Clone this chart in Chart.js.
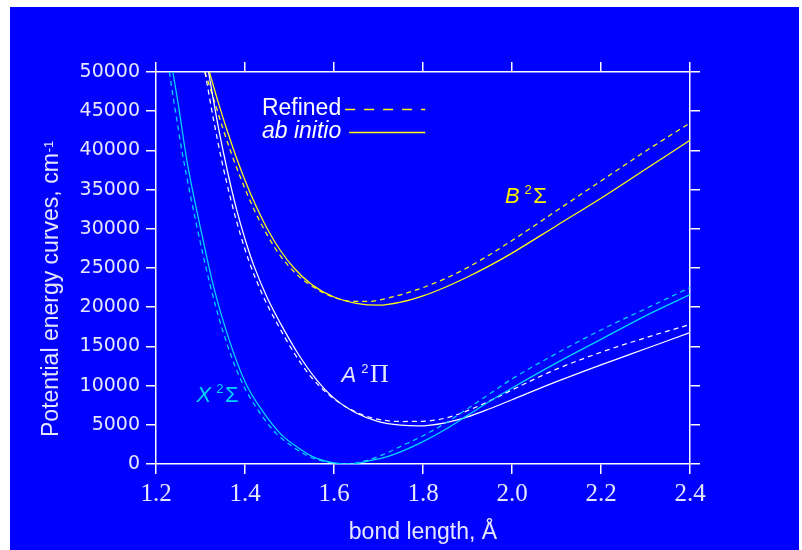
<!DOCTYPE html>
<html lang="en">
<head>
<meta charset="utf-8">
<title>Potential energy curves</title>
<script src="https://cdn.jsdelivr.net/npm/chart.js@4.4.1/dist/chart.umd.min.js"></script>
<style>
  html, body { margin: 0; padding: 0; background: #ffffff; }
  canvas { display: block; }
</style>
</head>
<body>
<canvas id="chart" width="802" height="550"></canvas>
<script>
// bond length (Å) and energy (cm-1) samples for each state, refined and ab initio
const xRefinedR = [1.230, 1.24, 1.26, 1.29, 1.32, 1.35, 1.39, 1.43, 1.47, 1.51, 1.55, 1.59, 1.63, 1.67, 1.71, 1.75, 1.80, 1.85, 1.90, 1.95, 2.00, 2.10, 2.20, 2.30, 2.40];
const xRefinedE = [50000, 46300, 39400, 30800, 23200, 17000, 10800, 6800, 3900, 2100, 800, 200, 0, 400, 1200, 2250, 3600, 5200, 7050, 8950, 10850, 14100, 17100, 19800, 22500];
const xAbInitioR = [1.238, 1.25, 1.27, 1.30, 1.33, 1.36, 1.40, 1.44, 1.48, 1.52, 1.56, 1.60, 1.64, 1.68, 1.72, 1.76, 1.80, 1.85, 1.90, 1.95, 2.00, 2.10, 2.20, 2.30, 2.40];
const xAbInitioE = [50000, 45900, 38500, 30100, 22500, 16600, 10500, 6700, 3850, 2050, 750, 150, 0, 420, 950, 1800, 2850, 4400, 6200, 8000, 9700, 12900, 15900, 18900, 21600];

const aRefinedR = [1.310, 1.33, 1.35, 1.37, 1.39, 1.41, 1.44, 1.47, 1.51, 1.55, 1.60, 1.65, 1.70, 1.75, 1.80, 1.85, 1.90, 1.95, 2.00, 2.10, 2.20, 2.30, 2.40];
const aRefinedE = [50000, 43700, 38100, 33300, 29200, 25700, 21500, 18150, 14200, 11000, 8300, 6600, 5700, 5420, 5450, 5850, 6800, 8050, 9450, 12100, 14250, 16100, 17800];
const aAbInitioR = [1.318, 1.34, 1.36, 1.38, 1.40, 1.42, 1.45, 1.48, 1.52, 1.56, 1.60, 1.65, 1.70, 1.75, 1.79, 1.85, 1.90, 1.95, 2.00, 2.10, 2.20, 2.30, 2.40];
const aAbInitioE = [50000, 43000, 37500, 32700, 28700, 25300, 21200, 17900, 14000, 10800, 8400, 6500, 5400, 4950, 4850, 5250, 6000, 7050, 8200, 10500, 12650, 14700, 16750];

const bRefinedR = [1.310, 1.33, 1.35, 1.37, 1.39, 1.42, 1.45, 1.48, 1.52, 1.56, 1.60, 1.64, 1.68, 1.72, 1.76, 1.80, 1.85, 1.90, 1.95, 2.00, 2.10, 2.20, 2.30, 2.40];
const bRefinedE = [50000, 46500, 42850, 39500, 36500, 32500, 29200, 26500, 24000, 22350, 21250, 20750, 20750, 21150, 21750, 22500, 23650, 25050, 26700, 28500, 32300, 36100, 39900, 43500];
const bAbInitioR = [1.320, 1.34, 1.36, 1.38, 1.40, 1.42, 1.45, 1.48, 1.51, 1.55, 1.60, 1.65, 1.70, 1.75, 1.80, 1.85, 1.90, 1.95, 2.00, 2.10, 2.20, 2.30, 2.40];
const bAbInitioE = [50000, 46100, 42500, 39200, 36200, 33500, 30000, 27200, 25000, 22900, 21300, 20500, 20250, 20650, 21450, 22550, 23850, 25300, 26900, 30400, 33900, 37600, 41300];

const xTickLabels = ["1.2", "1.4", "1.6", "1.8", "2.0", "2.2", "2.4"];
const yTickLabels = ["0", "5000", "10000", "15000", "20000", "25000", "30000", "35000", "40000", "45000", "50000"];

const BLUE = "#0000fe";
const CYAN = "#00d4ff";
const WHITE = "#ffffff";
const YELLOW = "#ffff10";
const INK = "#e6e6ff";
const SANS = '"Liberation Sans", Arial, sans-serif';

const points = (rs, es) => rs.map((r, i) => ({ x: r, y: es[i] }));

const curve = (label, rs, es, color, dashed) => ({
  label,
  data: points(rs, es),
  borderColor: color,
  backgroundColor: color,
  borderWidth: 1.25,
  borderDash: dashed ? [5, 4] : [],
  pointRadius: 0,
  showLine: true,
  fill: false,
  cubicInterpolationMode: "monotone",
});

// frame: ticks outside on all four sides, labels only on bottom/left
const frameAxis = (extra) => ({
  type: "linear",
  border: { display: true, color: WHITE, width: 1.5 },
  grid: { drawOnChartArea: false, drawTicks: true, tickLength: 10, color: WHITE, lineWidth: 1.5 },
  ...extra,
});

const decorations = {
  id: "decorations",
  beforeDraw(chart) {
    const { ctx, width, height } = chart;
    ctx.save();
    ctx.fillStyle = "#ffffff";
    ctx.fillRect(0, 0, width, height);
    ctx.fillStyle = BLUE;
    ctx.fillRect(10, 7, 789, height - 7);
    ctx.restore();
  },
  afterDraw(chart) {
    const { ctx, scales: { x, y } } = chart;
    const px = (r) => x.getPixelForValue(r);
    const py = (e) => y.getPixelForValue(e);
    ctx.save();

    // axis titles
    ctx.fillStyle = INK;
    ctx.textBaseline = "alphabetic";
    ctx.font = "23px " + SANS;
    ctx.textAlign = "center";
    ctx.fillText("bond length, Å", (x.left + x.right) / 2, 539);

    ctx.save();
    ctx.translate(58, 437);
    ctx.rotate(-Math.PI / 2);
    ctx.textAlign = "left";
    const yTitle = "Potential energy curves, cm";
    ctx.fillText(yTitle, 0, 0);
    const tw = ctx.measureText(yTitle).width;
    ctx.font = "13px " + SANS;
    ctx.fillText("-1", tw + 1, -5);
    ctx.restore();

    // legend
    ctx.textAlign = "left";
    ctx.fillStyle = WHITE;
    ctx.font = "23px " + SANS;
    const lx = px(1.438);
    ctx.fillText("Refined", lx, 115);
    ctx.font = "italic 23px " + SANS;
    ctx.fillText("ab initio", lx, 138);
    ctx.strokeStyle = YELLOW;
    ctx.lineWidth = 1.5;
    ctx.setLineDash([10, 9]);
    ctx.beginPath();
    ctx.moveTo(px(1.625), 109.5);
    ctx.lineTo(px(1.805), 109.5);
    ctx.stroke();
    ctx.setLineDash([]);
    ctx.beginPath();
    ctx.moveTo(px(1.634), 132.5);
    ctx.lineTo(px(1.805), 132.5);
    ctx.stroke();

    // state labels: italic letter, superscript 2, greek term symbol
    const stateLabel = (letter, greek, greekFont, color, r, e) => {
      const left = px(r), base = py(e);
      ctx.fillStyle = color;
      ctx.font = "italic 22px " + SANS;
      ctx.fillText(letter, left, base);
      const sx = left + ctx.measureText(letter).width + 5;
      ctx.font = "13px " + SANS;
      ctx.fillText("2", sx, base - 9);
      const gx = sx + ctx.measureText("2").width + 1.5;
      ctx.font = greekFont;
      ctx.fillText(greek, gx, base);
    };
    stateLabel("B", "Σ", "22px " + SANS, "#f8f000", 1.984, 33290);
    stateLabel("A", "Π", '26px "Liberation Serif", "Times New Roman", serif', INK, 1.617, 10500);
    stateLabel("X", "Σ", "22px " + SANS, CYAN, 1.291, 7950);

    ctx.restore();
  },
};

new Chart(document.getElementById("chart"), {
  type: "scatter",
  data: {
    datasets: [
      curve("X refined", xRefinedR, xRefinedE, CYAN, true),
      curve("X ab initio", xAbInitioR, xAbInitioE, CYAN, false),
      curve("A refined", aRefinedR, aRefinedE, WHITE, true),
      curve("A ab initio", aAbInitioR, aAbInitioE, WHITE, false),
      curve("B refined", bRefinedR, bRefinedE, YELLOW, true),
      curve("B ab initio", bAbInitioR, bAbInitioE, YELLOW, false),
    ],
  },
  options: {
    responsive: false,
    animation: false,
    devicePixelRatio: 1,
    layout: { padding: 0 },
    plugins: { legend: { display: false }, tooltip: { enabled: false } },
    scales: {
      x: frameAxis({
        position: "bottom",
        min: 1.2,
        max: 2.4,
        afterFit: (s) => { s.height = 86; },
        ticks: {
          stepSize: 0.2,
          padding: 5,
          color: INK,
          font: { family: '"Liberation Serif", "Times New Roman", serif', size: 25 },
          callback: (v, i) => xTickLabels[i],
        },
      }),
      x2: frameAxis({
        position: "top",
        min: 1.2,
        max: 2.4,
        afterFit: (s) => { s.height = 72; },
        ticks: { stepSize: 0.2, display: false },
      }),
      y: frameAxis({
        position: "left",
        min: 0,
        max: 50000,
        afterFit: (s) => { s.width = 156; },
        ticks: {
          stepSize: 5000,
          padding: 6,
          color: INK,
          font: { family: '"DejaVu Sans", sans-serif', size: 19 },
          callback: (v, i) => yTickLabels[i],
        },
      }),
      y2: frameAxis({
        position: "right",
        min: 0,
        max: 50000,
        afterFit: (s) => { s.width = 112; },
        ticks: { stepSize: 5000, display: false },
      }),
    },
  },
  plugins: [decorations],
});
</script>
</body>
</html>
